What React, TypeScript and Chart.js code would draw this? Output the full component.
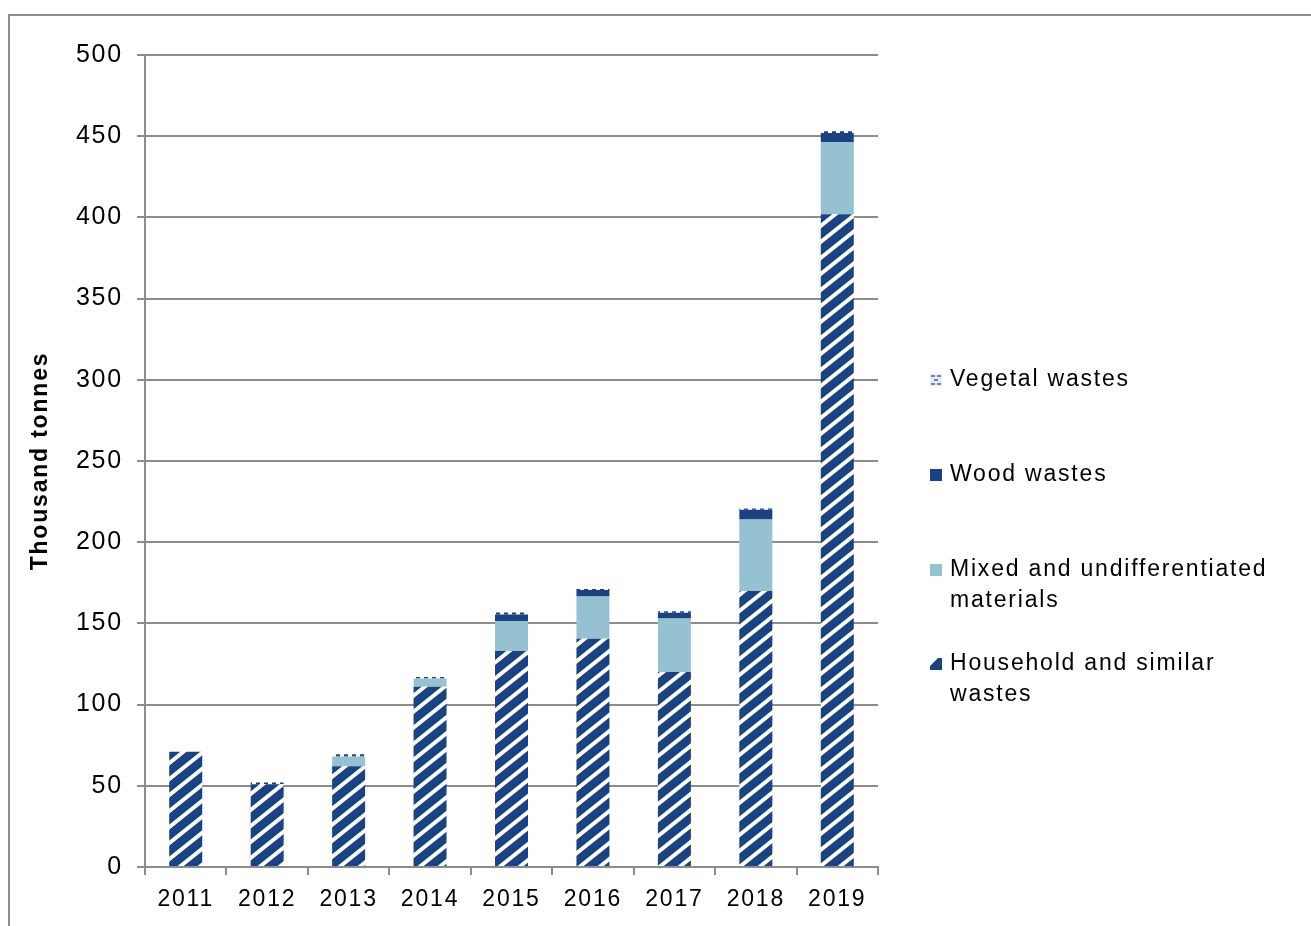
import React, { useEffect, useRef } from 'react';
import { Chart, registerables } from 'chart.js';

Chart.register(...registerables);

const years = ['2011', '2012', '2013', '2014', '2015', '2016', '2017', '2018', '2019'];
const household = [71, 51, 62, 111, 133, 140.5, 120, 170, 402];
const mixed = [0, 0, 6, 5, 18.5, 26, 33, 44, 44.5];
const wood = [0, 0, 0, 0, 4, 4, 3.5, 6, 5.5];
const vegetal = [0, 1, 1.5, 1, 1.2, 0.7, 1, 0.7, 1];
const yTicks = [0, 50, 100, 150, 200, 250, 300, 350, 400, 450, 500];
const legendVegetal = ['Vegetal wastes'];
const legendWood = ['Wood wastes'];
const legendMixed = ['Mixed and undifferentiated', 'materials'];
const legendHousehold = ['Household and similar', 'wastes'];
const yTitle = 'Thousand tonnes';

const NAVY = '#1B4281';
const NAVY_RGB = [27, 66, 129];
const LIGHT = '#95C1D0';
const GRID = '#8c8c8c';
const FONT = '"Liberation Sans", Arial, Helvetica, sans-serif';
const SPACING = '1.8px';

function makeHatch(): CanvasPattern | string {
  const W = 20;
  const H = 16;
  const c = document.createElement('canvas');
  c.width = W;
  c.height = H;
  const g = c.getContext('2d');
  if (!g) return NAVY;
  const img = g.createImageData(W, H);
  for (let y = 0; y < H; y++) {
    for (let x = 0; x < W; x++) {
      let cov = 0;
      for (let sy = 0; sy < 4; sy++) {
        for (let sx = 0; sx < 4; sx++) {
          const px = x + (sx + 0.5) / 4;
          const py = y + (sy + 0.5) / 4;
          const v = (((py + 0.8 * px) % 16) + 16) % 16;
          if (v < 5) cov++;
        }
      }
      cov /= 16;
      const i = (y * W + x) * 4;
      img.data[i] = Math.round(NAVY_RGB[0] * (1 - cov) + 255 * cov);
      img.data[i + 1] = Math.round(NAVY_RGB[1] * (1 - cov) + 255 * cov);
      img.data[i + 2] = Math.round(NAVY_RGB[2] * (1 - cov) + 255 * cov);
      img.data[i + 3] = 255;
    }
  }
  g.putImageData(img, 0, 0);
  return g.createPattern(c, 'repeat') || NAVY;
}

function makeDots(): CanvasPattern | string {
  const c = document.createElement('canvas');
  c.width = 8;
  c.height = 2;
  const g = c.getContext('2d');
  if (!g) return '#c8d4e6';
  g.fillStyle = '#ffffff';
  g.fillRect(0, 0, 8, 2);
  g.fillStyle = NAVY;
  g.fillRect(0, 0, 4, 2);
  return g.createPattern(c, 'repeat') || '#c8d4e6';
}

const spacingPlugin = {
  id: 'spacing',
  beforeLayout(chart: any) {
    chart.ctx.letterSpacing = SPACING;
  },
  beforeDraw(chart: any) {
    const ctx = chart.ctx;
    ctx.letterSpacing = SPACING;
    ctx.save();
    ctx.strokeStyle = GRID;
    ctx.lineWidth = 2;
    ctx.beginPath();
    ctx.moveTo(8, 15);
    ctx.lineTo(1311, 15);
    ctx.moveTo(9, 14);
    ctx.lineTo(9, 926);
    ctx.stroke();
    ctx.restore();
  },
};

const legendPlugin = {
  id: 'customLegend',
  afterDraw(chart: any) {
    const ctx: CanvasRenderingContext2D = chart.ctx;
    ctx.save();
    (ctx as any).letterSpacing = SPACING;
    ctx.font = `23px ${FONT}`;
    ctx.fillStyle = '#000';
    ctx.textAlign = 'left';
    ctx.textBaseline = 'middle';
    const boxX = 930;
    const textX = 950;
    const lh = 30.5;
    const items = [
      { lines: legendVegetal, y: 380, kind: 'veg' },
      { lines: legendWood, y: 475, kind: 'wood' },
      { lines: legendMixed, y: 570, kind: 'mixed' },
      { lines: legendHousehold, y: 664, kind: 'house' },
    ];
    for (const it of items) {
      const bx = boxX;
      const by = Math.round(it.y - 6);
      const s = 12;
      if (it.kind === 'wood') {
        ctx.fillStyle = NAVY;
        ctx.fillRect(bx, by, s, s);
      } else if (it.kind === 'mixed') {
        ctx.fillStyle = LIGHT;
        ctx.fillRect(bx, by, s, s);
      } else if (it.kind === 'veg') {
        ctx.fillStyle = '#e6ebf3';
        ctx.fillRect(bx, by, s, s);
        ctx.fillStyle = '#6f86ad';
        ctx.fillRect(bx + 1, by + 1, 4, 2);
        ctx.fillRect(bx + 7, by + 1, 4, 2);
        ctx.fillRect(bx + 4, by + 5, 4, 2);
        ctx.fillRect(bx + 1, by + 9, 4, 2);
        ctx.fillRect(bx + 7, by + 9, 4, 2);
      } else {
        ctx.fillStyle = NAVY;
        ctx.fillRect(bx, by, s, s);
        ctx.fillStyle = '#ffffff';
        ctx.beginPath();
        ctx.moveTo(bx, by);
        ctx.lineTo(bx + 8, by);
        ctx.lineTo(bx, by + 8);
        ctx.closePath();
        ctx.fill();
      }
      ctx.fillStyle = '#000';
      it.lines.forEach((t, i) => {
        ctx.fillText(t, textX, it.y + i * lh);
      });
    }
    ctx.restore();
  },
};

export default function App() {
  const ref = useRef<HTMLCanvasElement | null>(null);

  useEffect(() => {
    if (!ref.current) return;
    const hatch = makeHatch();
    const dots = makeDots();
    const common = { barPercentage: 0.405, categoryPercentage: 1, borderWidth: 0 };
    const chart = new Chart(ref.current, {
      type: 'bar',
      data: {
        labels: years,
        datasets: [
          { label: legendHousehold.join(' '), data: household, backgroundColor: hatch as any, ...common },
          { label: legendMixed.join(' '), data: mixed, backgroundColor: LIGHT, ...common },
          { label: legendWood.join(' '), data: wood, backgroundColor: NAVY, ...common },
          { label: legendVegetal.join(' '), data: vegetal, backgroundColor: dots as any, ...common },
        ],
      },
      options: {
        responsive: false,
        animation: false,
        layout: { padding: { left: 0, top: 55, right: 433, bottom: 0 } },
        plugins: {
          legend: { display: false },
          tooltip: { enabled: false },
        },
        scales: {
          x: {
            stacked: true,
            grid: {
              display: true,
              drawOnChartArea: false,
              drawTicks: true,
              tickLength: 8,
              color: GRID,
              lineWidth: 2,
              offset: true,
            },
            border: { display: true, color: GRID, width: 2 },
            ticks: {
              font: { family: FONT, size: 23 },
              color: '#000',
              padding: 11,
              maxRotation: 0,
              autoSkip: false,
            },
            afterFit: (s: any) => {
              s.height = 59;
            },
          },
          y: {
            stacked: true,
            min: 0,
            max: 500,
            afterBuildTicks: (s: any) => {
              s.ticks = yTicks.map((v) => ({ value: v }));
            },
            ticks: {
              font: { family: FONT, size: 25 },
              color: '#000',
              padding: 14,
            },
            grid: { color: GRID, lineWidth: 2, tickLength: 8 },
            border: { display: true, color: GRID, width: 2 },
            title: {
              display: true,
              text: yTitle,
              color: '#000',
              font: { family: FONT, size: 23, weight: 'bold' },
              padding: { top: 27, bottom: 0 },
            },
            afterFit: (s: any) => {
              s.width = 145;
            },
          },
        },
      },
      plugins: [spacingPlugin, legendPlugin],
    });
    return () => {
      chart.destroy();
    };
  }, []);

  return (
    <div style={{ position: 'fixed', left: 0, top: 0, width: 1311, height: 926, background: '#fff' }}>
      <canvas ref={ref} width={1311} height={926} style={{ display: 'block' }} />
    </div>
  );
}
